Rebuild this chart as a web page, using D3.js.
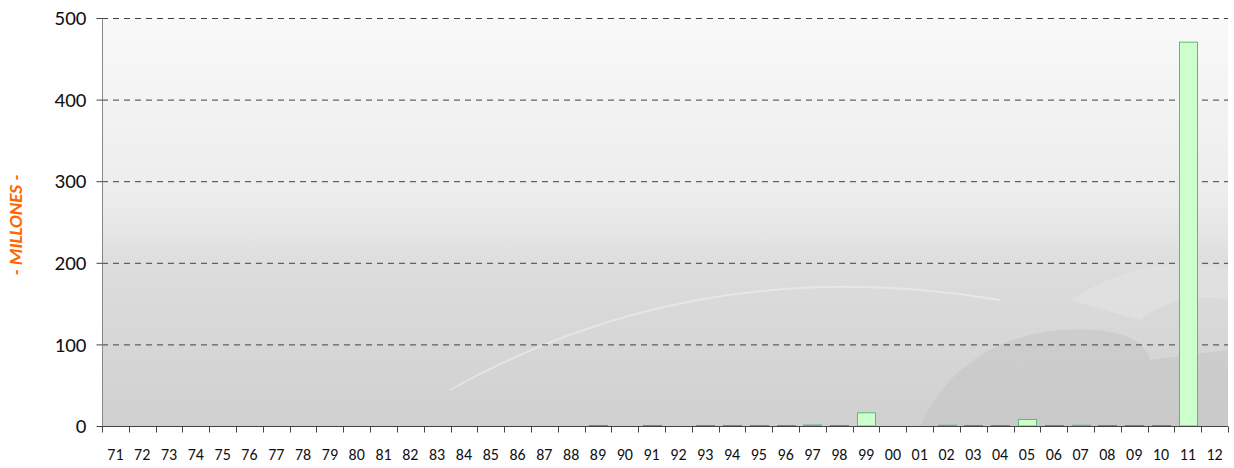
<!DOCTYPE html>
<html><head><meta charset="utf-8">
<script src="https://cdn.jsdelivr.net/npm/d3@7/dist/d3.min.js"></script>
<style>body{margin:0;background:#fff}svg{display:block}</style>
</head><body>
<svg id="c" width="1234" height="468"></svg>
<script>
const categories = ["71","72","73","74","75","76","77","78","79","80","81","82","83","84","85","86","87","88","89","90","91","92","93","94","95","96","97","98","99","00","01","02","03","04","05","06","07","08","09","10","11","12"];
const values = [0,0,0,0,0,0,0,0,0,0,0,0,0,0,0,0,0,0,0.8,0,0.8,0,0.8,0.8,0.8,0.8,1.8,0.8,16.8,0,0,1.5,0.8,0.8,8.6,0.8,1.5,0.8,0.8,0.8,471,0];
const yTicks = [0,100,200,300,400,500];
const yTitle = "- MILLONES -";

const FONT = "Carlito, Calibri, 'Open Sans', sans-serif";
const svg = d3.select("#c");
const m = {l:102, r:1228, t:18, b:426};
const x = d3.scaleBand().domain(categories).range([m.l, m.r]).paddingInner(0.33).paddingOuter(0.165);
const y = d3.scaleLinear().domain([0,500]).range([m.b, m.t]);

const defs = svg.append("defs");
const g = defs.append("linearGradient").attr("id","bg").attr("x1",0).attr("y1",0).attr("x2",0).attr("y2",1);
g.append("stop").attr("offset","0%").attr("stop-color","#f9f9f9");
g.append("stop").attr("offset","45%").attr("stop-color","#ececec");
g.append("stop").attr("offset","62%").attr("stop-color","#dcdcdc");
g.append("stop").attr("offset","100%").attr("stop-color","#d0d0d0");
svg.append("rect").attr("x",m.l).attr("y",m.t).attr("width",m.r-m.l).attr("height",m.b-m.t).attr("fill","url(#bg)");

// faint watermark
const wm = svg.append("g").attr("opacity",0.5);
wm.append("path").attr("d",`M450,390 Q700,250 1000,300`).attr("fill","none").attr("stroke","#f4f4f4").attr("stroke-width",2);
wm.append("path").attr("d",`M920,426 Q960,340 1060,330 Q1140,325 1150,360 L1228,350 L1228,426 Z`).attr("fill","#c4c4c4");
wm.append("path").attr("d",`M1070,300 Q1150,250 1228,270 L1228,300 Q1180,290 1140,320 Z`).attr("fill","#e6e6e6");

// grid
svg.append("g").selectAll("line").data(yTicks.filter(d=>d>0)).join("line")
  .attr("x1",m.l).attr("x2",m.r).attr("y1",d=>y(d)+0.5).attr("y2",d=>y(d)+0.5)
  .attr("stroke","#404040").attr("stroke-dasharray","6,5").attr("stroke-width",1);

// bars
svg.append("g").selectAll("rect").data(values).join("rect")
  .attr("x",(d,i)=>Math.round(x(categories[i]))+0.5)
  .attr("y",d=>y(d)+0.5)
  .attr("width",Math.round(x.bandwidth()))
  .attr("height",d=>Math.max(0,y(0)-y(d)-0.5))
  .attr("fill","#ccffcc").attr("stroke",d=>d<1?"#2f6f47":"#5cb87a").attr("stroke-width",1)
  .attr("display",d=>d>0?null:"none");

// y axis
const ya = svg.append("g").attr("transform",`translate(${m.l+0.5},0)`)
  .call(d3.axisLeft(y).tickValues(yTicks).tickSize(6).tickPadding(10).tickFormat(d3.format("d")));
ya.select(".domain").attr("stroke","#888").attr("d",`M0,${m.t}V${m.b}`);
ya.selectAll(".tick line").attr("stroke","#444");
ya.selectAll("text").style("font-family",FONT).style("font-size","21px").attr("fill","#111");

// x axis
const xa = svg.append("g").attr("transform",`translate(0,${m.b+0.5})`)
  .call(d3.axisBottom(x).tickSize(0).tickPadding(22));
xa.select(".domain").attr("stroke","#444").attr("d",`M${m.l},0H${m.r}`);
xa.selectAll("text").style("font-family",FONT).style("font-size","16px").attr("fill","#111");
const bounds = categories.map((c,i)=>m.l + i*x.step()).concat([m.r]);
xa.append("g").selectAll("line").data(bounds).join("line")
  .attr("x1",d=>Math.round(d)+0.5).attr("x2",d=>Math.round(d)+0.5).attr("y1",0).attr("y2",6).attr("stroke","#444");

svg.append("text").attr("transform","translate(22,225) rotate(-90)")
  .attr("text-anchor","middle").style("font-family",FONT).style("font-size","19px")
  .style("font-weight","bold").style("font-style","italic").attr("fill","#ff6600").text(yTitle);
</script>
</body></html>
